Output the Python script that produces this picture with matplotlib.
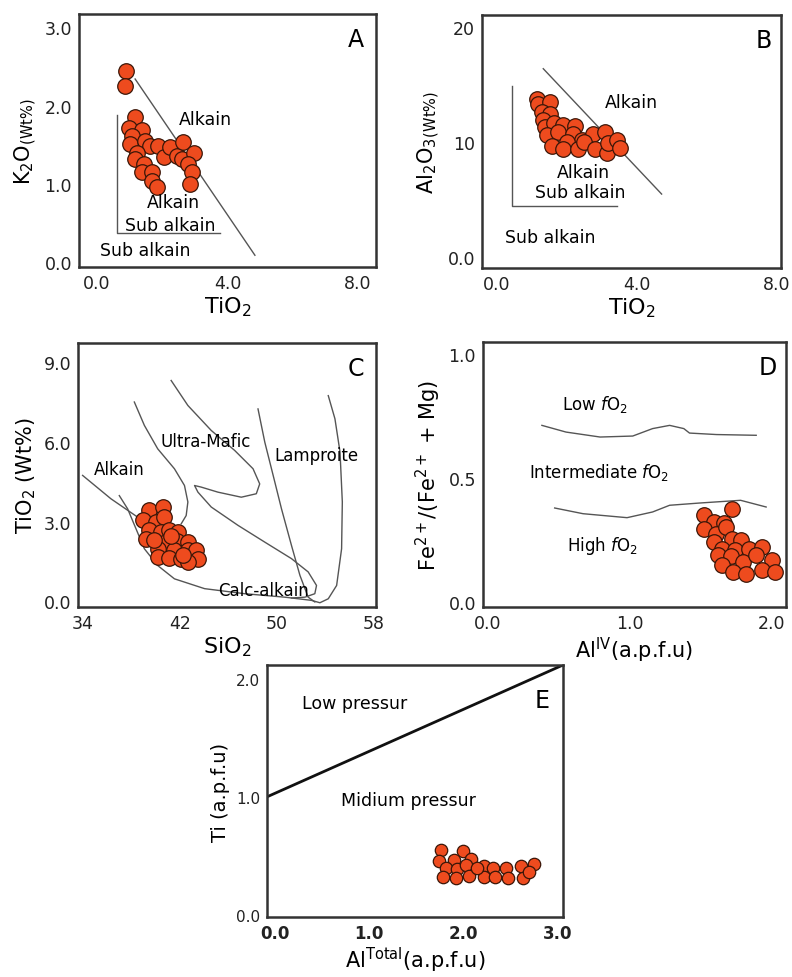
import matplotlib
matplotlib.use('Agg')
import matplotlib.pyplot as plt

plt.rcParams['font.family'] = 'DejaVu Sans'
plt.rcParams['mathtext.default'] = 'regular'

# ---- data ----
# A: TiO2 vs K2O
a_tio2 = [0.90, 0.87, 1.17, 0.97, 1.38, 1.07, 1.01, 1.48, 1.63, 1.22, 1.88, 1.17, 1.43,
          1.38, 1.68, 1.68, 1.84, 2.04, 2.24, 2.45, 2.65, 2.60, 2.96, 2.80, 2.91, 2.85]
a_k2o = [2.44, 2.25, 1.86, 1.72, 1.69, 1.61, 1.51, 1.55, 1.49, 1.40, 1.49, 1.32, 1.26,
         1.15, 1.15, 1.04, 0.96, 1.34, 1.47, 1.36, 1.53, 1.32, 1.40, 1.26, 1.15, 1.00]
a_line_x = [1.17, 4.84]
a_line_y = [2.34, 0.09]
a_brk_x = [0.61, 0.61, 3.77]
a_brk_y = [1.88, 0.37, 0.37]

# B: TiO2 vs Al2O3
b_tio2 = [1.14, 1.19, 1.52, 1.29, 1.52, 1.33, 1.38, 1.65, 1.90, 2.24, 1.43, 1.76, 2.19,
          2.45, 2.76, 3.10, 1.57, 2.00, 1.90, 2.33, 2.48, 2.81, 3.14, 3.19, 3.43, 3.52]
b_al2o3 = [13.8, 13.3, 13.5, 12.6, 12.5, 11.9, 11.3, 11.7, 11.5, 11.4, 10.6, 10.9, 10.7,
           10.2, 10.7, 10.9, 9.7, 10.0, 9.4, 9.4, 10.0, 9.4, 9.1, 9.9, 10.2, 9.5]
b_line_x = [1.33, 4.71]
b_line_y = [16.4, 5.5]
b_brk_x = [0.43, 0.43, 3.43]
b_brk_y = [14.9, 4.5, 4.5]

# C: SiO2 vs TiO2
c_sio2 = [39.5, 40.6, 38.94, 40.04, 40.74, 39.5, 40.46, 41.15, 41.84, 39.21, 40.87,
          41.78, 42.67, 40.18, 41.56, 42.67, 43.36, 40.18, 41.15, 42.12, 43.5, 42.67,
          39.9, 41.3, 42.3]
c_tio2 = [3.42, 3.55, 3.05, 2.98, 3.17, 2.67, 2.61, 2.67, 2.61, 2.36, 2.23,
          2.26, 2.23, 1.98, 1.92, 1.92, 1.92, 1.67, 1.63, 1.61, 1.61, 1.48,
          2.30, 2.45, 1.75]
c_alk_x = [33.98, 36.32, 38.11, 39.91]
c_alk_y = [4.74, 3.86, 3.30, 2.73]
c_u_x = [37.01, 37.70, 38.39, 39.08, 40.18, 41.56, 44.05, 47.36, 50.67, 52.87, 53.57,
         54.26, 54.95, 55.36, 55.42, 55.23, 54.81, 54.26]
c_u_y = [3.98, 3.48, 2.73, 1.98, 1.35, 0.85, 0.48, 0.29, 0.16, 0.04, -0.05,
         0.10, 0.60, 1.98, 3.74, 5.62, 6.87, 7.74]
c_um1_x = [38.25, 39.08, 40.18, 41.56, 42.39, 42.67, 42.53, 42.12]
c_um1_y = [7.50, 6.62, 5.74, 4.99, 4.36, 3.74, 3.23, 2.92]
c_um2_x = [41.29, 42.67, 44.60, 46.53, 48.05, 48.60, 48.32, 47.08, 45.15, 43.77, 43.22,
           43.50, 44.60, 46.81, 49.02, 51.22, 52.60, 53.29, 53.15, 52.33, 51.22]
c_um2_y = [8.31, 7.37, 6.43, 5.68, 4.99, 4.42, 4.05, 3.92, 4.11, 4.30, 4.36,
           4.11, 3.55, 2.86, 2.23, 1.61, 1.11, 0.60, 0.29, 0.16, 0.13]
c_lam_x = [48.46, 49.02, 49.71, 50.40, 51.22, 51.92, 52.60, 53.15]
c_lam_y = [7.24, 5.99, 4.74, 3.48, 2.11, 0.98, 0.16, -0.02]

# D: Al(IV) vs Fe2+/(Fe2+ + Mg)
d_aliv = [1.52, 1.72, 1.59, 1.66, 1.52, 1.61, 1.68, 1.59, 1.72, 1.78, 1.65, 1.74,
          1.84, 1.93, 1.62, 1.71, 1.80, 1.89, 2.00, 1.65, 1.73, 1.82, 1.93, 2.02]
d_fe = [0.349, 0.374, 0.323, 0.320, 0.296, 0.276, 0.302, 0.242, 0.255, 0.250, 0.215, 0.208,
        0.215, 0.222, 0.188, 0.185, 0.161, 0.188, 0.168, 0.148, 0.121, 0.114, 0.128, 0.121]
d_low_x = [0.38, 0.55, 0.79, 1.02, 1.16, 1.28, 1.38, 1.42, 1.61, 1.89]
d_low_y = [0.712, 0.685, 0.665, 0.669, 0.699, 0.712, 0.699, 0.681, 0.675, 0.672]
d_high_x = [0.47, 0.67, 0.98, 1.16, 1.28, 1.49, 1.78, 1.96]
d_high_y = [0.379, 0.356, 0.340, 0.363, 0.390, 0.399, 0.410, 0.383]

# E: Al(total) vs Ti
e_alt = [1.76, 2.00, 1.74, 1.90, 2.08, 1.81, 1.93, 2.03, 2.22, 2.32, 2.45, 2.61, 2.75,
         1.78, 1.92, 2.06, 2.22, 2.34, 2.48, 2.63, 2.70, 2.15]
e_ti = [0.545, 0.54, 0.458, 0.46, 0.475, 0.40, 0.387, 0.42, 0.41, 0.40, 0.40, 0.41, 0.43,
        0.32, 0.31, 0.33, 0.32, 0.32, 0.31, 0.31, 0.36, 0.40]
e_line_x = [-0.09, 3.06]
e_line_y = [1.0, 2.12]

# ---- styling ----
dot = dict(s=125, c='#EE4B1E', edgecolors='#3a1608', linewidths=0.9, zorder=3)
line_c = '#555555'
W, H = 792, 978


def make_ax(l, t, r, b):
    ax = fig.add_axes([l / W, 1 - b / H, (r - l) / W, (b - t) / H])
    for sp in ax.spines.values():
        sp.set_linewidth(1.8)
        sp.set_color('#333333')
    ax.tick_params(length=0, labelsize=12.5, pad=5, colors='#222222')
    return ax


fig = plt.figure(figsize=(7.92, 9.78), dpi=100)

# A
ax = make_ax(79, 15, 376, 268)
ax.plot(a_line_x, a_line_y, color=line_c, lw=1)
ax.plot(a_brk_x, a_brk_y, color=line_c, lw=1)
ax.scatter(a_tio2, a_k2o, **dot)
ax.set_xlim(-0.55, 8.55)
ax.set_ylim(-0.06, 3.17)
ax.set_xticks([0, 4, 8], ['0.0', '4.0', '8.0'])
ax.set_yticks([0, 1, 2, 3], ['0.0', '1.0', '2.0', '3.0'])
ax.text(3.31, 1.83, 'Alkain', ha='center', va='center', fontsize=12.5)
ax.text(2.34, 0.77, 'Alkain', ha='center', va='center', fontsize=12.5)
ax.text(2.24, 0.48, 'Sub alkain', ha='center', va='center', fontsize=12.5)
ax.text(1.48, 0.16, 'Sub alkain', ha='center', va='center', fontsize=12.5)
ax.text(0.96, 0.95, 'A', transform=ax.transAxes, ha='right', va='top', fontsize=17)
ax.set_xlabel('TiO$_2$', fontsize=16, labelpad=2)
ax.set_ylabel('K$_2$O$_{(Wt\\%)}$', fontsize=15, labelpad=4)

# B
ax = make_ax(482, 16, 781, 269)
ax.plot(b_line_x, b_line_y, color=line_c, lw=1)
ax.plot(b_brk_x, b_brk_y, color=line_c, lw=1)
ax.scatter(b_tio2, b_al2o3, **dot)
ax.set_xlim(-0.42, 8.12)
ax.set_ylim(-0.93, 21.07)
ax.set_xticks([0, 4, 8], ['0.0', '4.0', '8.0'])
ax.set_yticks([0, 10, 20], ['0.0', '10', '20'])
ax.text(3.86, 13.5, 'Alkain', ha='center', va='center', fontsize=12.5)
ax.text(2.48, 7.4, 'Alkain', ha='center', va='center', fontsize=12.5)
ax.text(2.38, 5.65, 'Sub alkain', ha='center', va='center', fontsize=12.5)
ax.text(1.52, 1.74, 'Sub alkain', ha='center', va='center', fontsize=12.5)
ax.text(0.97, 0.95, 'B', transform=ax.transAxes, ha='right', va='top', fontsize=17)
ax.set_xlabel('TiO$_2$', fontsize=16, labelpad=2)
ax.set_ylabel('Al$_2$O$_3$$_{(Wt\\%)}$', fontsize=15, labelpad=4)

# C
ax = make_ax(78, 344, 376, 608)
for xs, ys in [(c_alk_x, c_alk_y), (c_u_x, c_u_y), (c_um1_x, c_um1_y),
               (c_um2_x, c_um2_y), (c_lam_x, c_lam_y)]:
    ax.plot(xs, ys, color=line_c, lw=1)
ax.scatter(c_sio2, c_tio2, **dot)
ax.set_xlim(33.6, 58.2)
ax.set_ylim(-0.21, 9.72)
ax.set_xticks([34, 42, 50, 58], ['34', '42', '50', '58'])
ax.set_yticks([0, 3, 6, 9], ['0.0', '3.0', '6.0', '9.0'])
ax.text(44.18, 6.05, 'Ultra-Mafic', ha='center', va='center', fontsize=12)
ax.text(53.29, 5.49, 'Lamproite', ha='center', va='center', fontsize=12)
ax.text(37.01, 4.99, 'Alkain', ha='center', va='center', fontsize=12)
ax.text(48.88, 0.44, 'Calc-alkain', ha='center', va='center', fontsize=12)
ax.text(0.96, 0.95, 'C', transform=ax.transAxes, ha='right', va='top', fontsize=17)
ax.set_xlabel('SiO$_2$', fontsize=16, labelpad=2)
ax.set_ylabel('TiO$_2$ (Wt%)', fontsize=15, labelpad=4)

# D
ax = make_ax(483, 343, 786, 608)
ax.plot(d_low_x, d_low_y, color=line_c, lw=1)
ax.plot(d_high_x, d_high_y, color=line_c, lw=1)
ax.scatter(d_aliv, d_fe, **dot)
ax.set_xlim(-0.035, 2.10)
ax.set_ylim(-0.02, 1.048)
ax.set_xticks([0, 1, 2], ['0.0', '1.0', '2.0'])
ax.set_yticks([0, 0.5, 1.0], ['0.0', '0.5', '1.0'])
ax.text(0.75, 0.80, 'Low $\\mathit{f}$O$_2$', ha='center', va='center', fontsize=12)
ax.text(0.78, 0.527, 'Intermediate $\\mathit{f}$O$_2$', ha='center', va='center', fontsize=12)
ax.text(0.81, 0.228, 'High $\\mathit{f}$O$_2$', ha='center', va='center', fontsize=12)
ax.text(0.97, 0.95, 'D', transform=ax.transAxes, ha='right', va='top', fontsize=17)
ax.set_xlabel('Al$^{IV}$(a.p.f.u)', fontsize=15, labelpad=2)
ax.set_ylabel('Fe$^{2+}$/(Fe$^{2+}$ + Mg)', fontsize=15, labelpad=4)

# E
ax = make_ax(267, 666, 563, 918)
ax.plot(e_line_x, e_line_y, color='#111111', lw=2)
ax.scatter(e_alt, e_ti, **dict(dot, s=80))
ax.set_xlim(-0.089, 3.06)
ax.set_ylim(-0.02, 2.12)
ax.set_xticks([0, 1, 2, 3], ['0.0', '1.0', '2.0', '3.0'])
ax.set_yticks([0, 1, 2], ['0.0', '1.0', '2.0'])
ax.tick_params(axis='x', labelsize=12)
ax.tick_params(axis='y', labelsize=11)
for lb in ax.get_xticklabels():
    lb.set_fontweight('bold')
ax.text(0.84, 1.80, 'Low pressur', ha='center', va='center', fontsize=12.5)
ax.text(1.42, 0.97, 'Midium pressur', ha='center', va='center', fontsize=12.5)
ax.text(0.955, 0.91, 'E', transform=ax.transAxes, ha='right', va='top', fontsize=17)
ax.set_xlabel('Al$^{Total}$(a.p.f.u)', fontsize=15, labelpad=2)
ax.set_ylabel('Ti (a.p.f.u)', fontsize=14, labelpad=4)

fig.savefig('out.png', dpi=100)
